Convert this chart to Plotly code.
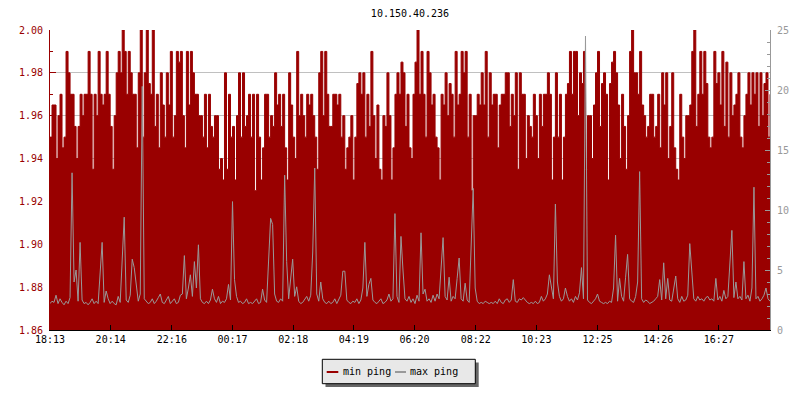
import plotly.graph_objects as go
import pandas as pd

# ---------------- data ----------------
title_text = "10.150.40.236"
series_names = ["min ping", "max ping"]

tick_labels = ["18:13", "20:14", "22:16", "00:17", "02:18", "04:19",
               "06:20", "08:22", "10:23", "12:25", "14:26", "16:27"]
tick_times = ["2024-05-01 18:13", "2024-05-01 20:14", "2024-05-01 22:16",
              "2024-05-02 00:17", "2024-05-02 02:18", "2024-05-02 04:19",
              "2024-05-02 06:20", "2024-05-02 08:22", "2024-05-02 10:23",
              "2024-05-02 12:25", "2024-05-02 14:26", "2024-05-02 16:27"]
x_start = "2024-05-01 18:13"
x_end = "2024-05-02 18:09"

min_ping_1 = [1.95, 1.965, 1.965, 1.94, 1.96, 1.97, 1.945, 1.95, 1.99, 1.98,
              1.97, 1.97, 1.955, 1.94, 1.955, 1.97, 1.96, 1.97, 1.97, 1.99,
              1.97, 1.935, 1.97, 1.96, 1.99, 1.97, 1.965, 1.97, 1.99, 1.97,
              1.955, 1.935, 1.96, 1.98, 1.99, 1.98, 2.00, 1.99, 1.97, 1.99,
              1.98, 1.97, 1.97, 1.945, 1.98, 2.00, 1.95, 1.98, 2.00, 1.975,
              1.97, 2.00, 1.955, 1.97, 1.945, 1.98, 1.965, 1.95, 1.98, 1.965]
min_ping_2 = [1.99, 1.95, 1.96, 1.99, 1.985, 1.99, 1.96, 1.945, 1.99, 1.965,
              1.99, 1.98, 1.97, 1.97, 1.96, 1.96, 1.95, 1.97, 1.945, 1.97,
              1.955, 1.95, 1.96, 1.96, 1.935, 1.94, 1.93, 1.98, 1.935, 1.97,
              1.95, 1.955, 1.93, 1.96, 1.98, 1.95, 1.98, 1.955, 1.96, 1.97,
              1.95, 1.97, 1.925, 1.97, 1.95, 1.93, 1.945, 1.97, 1.97, 1.95,
              1.96, 1.955, 1.98, 1.965, 1.97, 1.955, 1.97, 1.945, 1.93, 1.98]
min_ping_3 = [1.965, 1.95, 1.94, 1.99, 1.96, 1.97, 1.96, 1.95, 1.97, 1.965,
              1.97, 1.96, 1.95, 1.935, 1.98, 1.99, 1.96, 1.99, 1.97, 1.955,
              1.955, 1.97, 1.97, 1.965, 1.97, 1.95, 1.96, 1.935, 1.945, 1.95,
              1.96, 1.93, 1.95, 1.975, 1.98, 1.97, 1.98, 1.95, 1.97, 1.955,
              1.99, 1.96, 1.94, 1.965, 1.935, 1.93, 1.96, 1.955, 1.98, 1.96,
              1.93, 1.945, 1.97, 1.98, 1.97, 1.985, 1.98, 1.955, 1.97, 1.945]
min_ping_4 = [1.94, 1.97, 1.985, 2.00, 1.97, 1.99, 1.97, 1.95, 1.99, 1.98,
              1.965, 1.97, 1.95, 1.945, 1.93, 1.97, 1.965, 1.98, 1.96, 1.975,
              1.97, 1.95, 1.99, 1.965, 1.97, 1.99, 1.98, 1.99, 1.95, 1.97,
              1.925, 1.96, 1.96, 1.97, 1.965, 1.98, 1.965, 1.99, 1.95, 1.98,
              1.965, 1.97, 1.97, 1.945, 1.965, 1.97, 1.97, 1.98, 1.98, 1.955,
              1.97, 1.96, 1.98, 1.935, 1.98, 1.97, 1.97, 1.94, 1.96, 1.955]
min_ping_5 = [1.95, 1.97, 1.96, 1.94, 1.97, 1.955, 1.97, 1.97, 1.98, 1.97,
              1.93, 1.95, 1.98, 1.95, 1.97, 1.93, 1.95, 1.97, 1.975, 1.99,
              1.97, 1.99, 1.99, 1.96, 1.98, 1.975, 1.99, 1.935, 1.96, 1.96,
              1.94, 1.965, 1.98, 1.99, 1.955, 1.975, 1.98, 1.97, 1.93, 1.975,
              1.985, 1.99, 1.98, 1.965, 1.94, 1.97, 1.955, 1.935, 1.96, 1.99,
              2.00, 1.98, 1.98, 1.97, 1.99, 1.965, 1.96, 1.95, 1.955, 1.97]
min_ping_6 = [1.97, 1.95, 1.955, 1.97, 1.945, 1.98, 1.965, 1.98, 1.94, 1.955,
              1.98, 1.945, 1.935, 1.93, 1.97, 1.95, 1.94, 1.96, 1.96, 1.965,
              1.99, 2.00, 1.955, 1.97, 1.99, 1.97, 1.99, 1.975, 1.95, 1.945,
              1.95, 1.99, 1.975, 1.98, 1.965, 1.99, 1.955, 1.985, 1.95, 1.98,
              1.96, 1.965, 1.97, 1.98, 1.95, 1.945, 1.96, 1.97, 1.98, 1.965,
              1.98, 1.97, 1.98, 1.955, 1.98, 1.96, 1.975, 1.98, 1.95, 1.97]

max_ping = [
    2.2, 2.4, 2.3, 2.9, 2.2, 2.6, 2.3, 2.1, 2.4, 2.2,
    2.7, 13.1, 4.0, 5.0, 2.4, 7.3, 2.5, 2.2, 2.3, 2.1,
    2.3, 2.6, 2.2, 2.4, 2.2, 4.8, 7.3, 2.3, 3.25, 2.6,
    2.2, 2.4, 2.2, 2.1, 2.8, 2.3, 5.9, 9.4, 2.5, 2.3,
    2.9, 5.9, 5.2, 3.6, 2.4, 3.0, 20.3, 2.6, 2.4, 2.2,
    2.3, 2.6, 2.2, 2.4, 2.7, 3.0, 2.3, 2.2, 2.5, 2.8,
    2.2, 2.4, 2.6, 2.2, 2.3, 2.9, 3.0, 6.2, 2.6, 3.5,
    4.6, 2.8, 5.7, 3.5, 7.1, 2.6, 2.3, 2.2, 2.4, 2.2,
    2.5, 3.4, 2.6, 2.3, 2.8, 2.2, 2.4, 2.3, 2.6, 3.8,
    2.5, 10.7, 4.2, 2.8, 2.3, 2.4, 2.2, 2.3, 2.6, 2.2,
    2.3, 2.2, 2.4, 2.6, 2.2, 2.3, 3.4, 2.5, 2.3, 5.8,
    9.3, 8.8, 3.0, 2.4, 2.3, 2.6, 2.4, 12.9, 5.7, 2.6,
    4.2, 5.9, 2.8, 3.6, 2.4, 2.2, 2.3, 2.6, 2.8, 2.4,
    2.9, 6.5, 13.5, 3.0, 2.4, 4.0, 2.6, 2.3, 2.2, 2.4,
    2.2, 2.3, 2.6, 2.2, 2.5, 2.9, 4.9, 4.9, 2.5, 2.3,
    2.2, 2.4, 2.3, 2.6, 2.2, 2.5, 3.5, 7.3, 2.8, 3.8,
    4.3, 2.5, 2.3, 2.2, 2.4, 2.6, 2.2, 2.3, 2.5, 3.0,
    2.4, 2.6, 9.7, 2.8, 2.3, 7.8, 5.0, 2.6, 2.4, 2.8,
    2.3, 2.6, 2.2, 2.9, 2.4, 8.1, 3.0, 3.4, 2.4, 2.6,
    2.3, 2.9, 2.4, 3.0, 2.6, 5.7, 7.7, 2.8, 2.5, 4.4,
    2.4, 2.8, 2.6, 4.3, 6.0, 2.6, 2.4, 3.9, 2.5, 2.3,
    7.9, 11.8, 3.5, 2.4, 2.2, 2.3, 2.2, 2.4, 2.3, 2.2,
    2.3, 2.2, 2.4, 2.2, 2.6, 2.3, 2.2, 2.5, 2.6, 2.3,
    2.5, 4.2, 2.4, 2.3, 2.6, 2.5, 2.7, 2.5, 2.3, 2.2,
    2.3, 2.2, 2.4, 2.2, 2.3, 2.8, 2.4, 2.6, 3.0, 4.6,
    3.6, 2.6, 10.5, 4.0, 2.8, 2.4, 2.6, 3.5, 2.8, 2.4,
    2.6, 2.3, 2.8, 2.5, 3.1, 5.2, 2.6, 24.5, 2.5, 2.3,
    2.2, 2.4, 2.6, 3.0, 2.4, 2.3, 2.2, 2.3, 2.2, 2.4,
    2.3, 3.5, 7.9, 2.4, 4.3, 2.8, 2.4, 4.4, 6.3, 2.6,
    2.4, 2.3, 2.8, 4.0, 13.2, 2.6, 2.3, 2.5, 2.4, 2.2,
    2.3, 2.4, 2.6, 2.8, 4.2, 2.5, 5.6, 2.6, 4.3, 2.5,
    2.4, 3.6, 4.5, 2.6, 2.3, 2.8, 2.4, 2.5, 2.9, 7.2,
    4.7, 2.6, 2.4, 2.8, 2.5, 2.6, 2.4, 2.7, 2.8, 2.5,
    2.6, 2.4, 4.3, 2.5, 2.8, 2.4, 3.3, 2.6, 2.8, 5.6,
    8.3, 2.7, 4.0, 2.6, 2.8, 2.5, 5.7, 2.6, 2.9, 2.4,
    3.5, 11.9, 2.6, 2.8, 2.4, 2.6, 2.9, 3.5, 2.6, 2.4,
]

min_ping = min_ping_1 + min_ping_2 + min_ping_3 + min_ping_4 + min_ping_5 + min_ping_6
times = pd.date_range(x_start, periods=len(min_ping), freq="4min")

RED = "#990000"
GRAY = "#999999"
FONT = "DejaVu Sans Mono"

# ---------------- figure ----------------
# the page body has an 8px margin, so the figure is offset by 8px
OFF = 8
W, H = 784, 384
PL, PR, PT, PB = 50, 770, 30, 330          # plot area in page pixels
L, T = PL - OFF, PT - OFF
R = W - L - (PR - PL)
B = H - T - (PB - PT)


def px(x):
    return (x - PL) / (PR - PL)


def py(y):
    return (PB - y) / (PB - PT)


fig = go.Figure()
fig.add_trace(go.Scatter(
    x=times, y=min_ping, name=series_names[0], mode="lines",
    line=dict(color=RED, width=1, shape="hv"),
    fill="tozeroy", fillcolor=RED, showlegend=False, hoverinfo="skip"))
fig.add_trace(go.Scatter(
    x=times, y=max_ping, name=series_names[1], mode="lines", yaxis="y2",
    line=dict(color=GRAY, width=1, shape="linear"),
    showlegend=False, hoverinfo="skip"))

# manual legend (box with drop shadow)
shapes = [
    dict(type="rect", xref="paper", yref="paper",
         x0=px(325.5), x1=px(478.7), y0=py(362.5), y1=py(387),
         fillcolor="#666666", line=dict(width=0)),
    dict(type="rect", xref="paper", yref="paper",
         x0=px(322.3), x1=px(475.3), y0=py(359.3), y1=py(383.7),
         fillcolor="#e8e8e8", line=dict(color="black", width=1)),
    dict(type="line", xref="paper", yref="paper",
         x0=px(326.7), x1=px(338.3), y0=py(372), y1=py(372),
         line=dict(color=RED, width=2)),
    dict(type="line", xref="paper", yref="paper",
         x0=px(395), x1=px(406), y0=py(372), y1=py(372),
         line=dict(color=GRAY, width=2)),
]
annotations = [
    dict(text=series_names[0], xref="paper", yref="paper", x=px(340.5), y=py(371.5),
         xanchor="left", yanchor="middle", showarrow=False,
         font=dict(family=FONT, size=10, color="black")),
    dict(text=series_names[1], xref="paper", yref="paper", x=px(408.3), y=py(371.5),
         xanchor="left", yanchor="middle", showarrow=False,
         font=dict(family=FONT, size=10, color="black")),
]

fig.update_layout(
    width=W, height=H,
    margin=dict(l=L, r=R, t=T, b=B, autoexpand=False),
    paper_bgcolor="white", plot_bgcolor="white",
    font=dict(family=FONT, size=10, color="black"),
    title=dict(text=title_text, x=px(410), xref="paper", xanchor="center",
               y=1 - (13 - OFF) / H, yref="container", yanchor="middle",
               font=dict(family=FONT, size=10, color="black")),
    shapes=shapes, annotations=annotations,
    xaxis=dict(
        type="date", range=[x_start, x_end], automargin=False,
        tickvals=tick_times, ticktext=tick_labels,
        ticks="inside", ticklen=5, tickcolor="black", tickwidth=1,
        showline=True, linecolor="black", linewidth=1,
        showgrid=False, zeroline=False,
        tickfont=dict(family=FONT, size=10, color="black"),
    ),
    yaxis=dict(
        range=[1.86, 2.00], automargin=False,
        tickvals=[1.86, 1.88, 1.90, 1.92, 1.94, 1.96, 1.98, 2.00],
        ticktext=["1.86", "1.88", "1.90", "1.92", "1.94", "1.96", "1.98", "2.00"],
        ticks="inside", ticklen=6, tickcolor=RED, tickwidth=1,
        minor=dict(dtick=0.01, ticks="inside", ticklen=3, tickcolor=RED, showgrid=False),
        showline=True, linecolor=RED, linewidth=1,
        showgrid=True, gridcolor="#c0c0c0", gridwidth=1, zeroline=False,
        tickfont=dict(family=FONT, size=10, color=RED),
        ticklabelstandoff=4,
    ),
    yaxis2=dict(
        range=[0, 25], overlaying="y", side="right", automargin=False,
        tickvals=[0, 5, 10, 15, 20, 25],
        ticktext=["0", "5", "10", "15", "20", "25"],
        ticks="inside", ticklen=5, tickcolor=GRAY, tickwidth=1,
        minor=dict(dtick=1, ticks="inside", ticklen=3, tickcolor=GRAY, showgrid=False),
        showline=True, linecolor=GRAY, linewidth=1,
        showgrid=False, zeroline=False,
        tickfont=dict(family=FONT, size=10, color=GRAY),
        ticklabelstandoff=4,
    ),
)

fig.write_html("out.html")
